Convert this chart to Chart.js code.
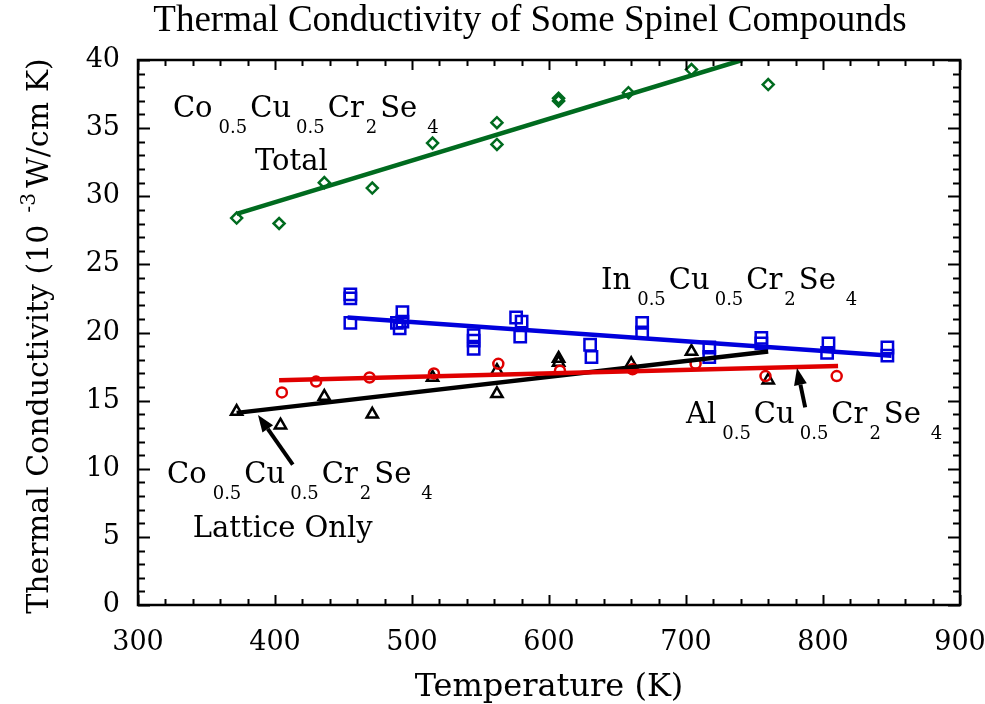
<!DOCTYPE html>
<html>
<head>
<meta charset="utf-8">
<title>Thermal Conductivity of Some Spinel Compounds</title>
<script src="https://cdn.jsdelivr.net/npm/chart.js"></script>
<style>
  html, body { margin: 0; padding: 0; background: #fff; }
</style>
</head>
<body>
<canvas id="chart" width="985" height="704"></canvas>
<script>
// --- measured points (temperature K, conductivity 10^-3 W/cm K) ---
// Co0.5Cu0.5Cr2Se4, total
var totalT = [372, 403, 436, 471, 515, 562, 562, 607, 607, 658, 704, 760];
var totalK = [28.4, 28.0, 31.0, 30.6, 33.9, 35.4, 33.8, 37.2, 37.0, 37.6, 39.3, 38.2];
// In0.5Cu0.5Cr2Se4
var inT = [455, 455, 455, 493, 493, 491, 489, 545, 545, 545, 576, 580, 579, 630, 631, 668, 668, 717, 717, 755, 755, 804, 803, 847, 847];
var inK = [22.8, 22.5, 20.7, 21.5, 20.8, 20.3, 20.7, 19.8, 19.4, 18.8, 21.1, 20.8, 19.7, 19.1, 18.2, 20.7, 20.0, 18.9, 18.2, 19.6, 19.2, 19.2, 18.5, 18.9, 18.3];
// Al0.5Cu0.5Cr2Se4
var alT = [405, 430, 469, 516, 563, 608, 661, 707, 758, 810];
var alK = [15.6, 16.4, 16.7, 17.0, 17.7, 17.2, 17.3, 17.7, 16.8, 16.8];
// Co0.5Cu0.5Cr2Se4, lattice only
var latT = [372, 404, 436, 471, 515, 562, 562, 607, 607, 660, 704, 760];
var latK = [14.2, 13.2, 15.3, 14.0, 16.7, 17.2, 15.5, 18.1, 17.8, 17.7, 18.6, 16.5];

// fit lines (end points)
var totalFitT = [372, 741], totalFitK = [28.7, 40.0];
var inFitT = [453, 850], inFitK = [21.1, 18.3];
var alFitT = [403, 811], alFitK = [16.5, 17.55];
var latFitT = [372, 760], latFitK = [14.1, 18.6];

// arrows: [tailT, tailK, headT, headK]
var latArrow = [413, 10.3, 387.6, 13.95];
var alArrow = [787, 14.5, 781, 17.4];

// axis ticks
var xMajor = [300, 400, 500, 600, 700, 800, 900];
var yMajor = [0, 5, 10, 15, 20, 25, 30, 35, 40];

var GREEN = '#006b1f', BLUE = '#0000dc', RED = '#e00000', BLACK = '#000000';
var SERIF = '"DejaVu Serif", serif';

function pts(xs, ys) {
	return xs.map(function (x, i) { return { x: x, y: ys[i] }; });
}

function formula(first) {
	return [
		{ t: first },
		{ t: '0.5', sub: true, gap: 6 },
		{ t: 'Cu', gap: 3 },
		{ t: '0.5', sub: true, gap: 5 },
		{ t: 'Cr', gap: 3 },
		{ t: '2', sub: true, gap: 2 },
		{ t: 'Se', gap: 3 },
		{ t: '4', sub: true, gap: 10 }
	];
}

function drawFormula(ctx, x, y, parts) {
	parts.forEach(function (p) {
		x += p.gap || 0;
		ctx.font = p.sub ? '18px ' + SERIF : '29px ' + SERIF;
		ctx.fillText(p.t, x, p.sub ? y + 16 : y);
		x += ctx.measureText(p.t).width;
	});
}

function drawArrow(ctx, xs, ys, a) {
	var x1 = xs.getPixelForValue(a[0]), y1 = ys.getPixelForValue(a[1]);
	var x2 = xs.getPixelForValue(a[2]), y2 = ys.getPixelForValue(a[3]);
	var ang = Math.atan2(y2 - y1, x2 - x1), len = 17, half = 6.5;
	var bx = x2 - Math.cos(ang) * len, by = y2 - Math.sin(ang) * len;
	ctx.strokeStyle = BLACK;
	ctx.lineWidth = 4;
	ctx.beginPath();
	ctx.moveTo(x1, y1);
	ctx.lineTo(bx, by);
	ctx.stroke();
	ctx.fillStyle = BLACK;
	ctx.beginPath();
	ctx.moveTo(x2, y2);
	ctx.lineTo(bx + Math.sin(ang) * half, by - Math.cos(ang) * half);
	ctx.lineTo(bx - Math.sin(ang) * half, by + Math.cos(ang) * half);
	ctx.closePath();
	ctx.fill();
}

// frame, inward ticks on all sides, labels, arrows and titles
var extras = {
	id: 'extras',
	afterDraw: function (chart) {
		var ctx = chart.ctx, a = chart.chartArea;
		var xs = chart.scales.x, ys = chart.scales.y;
		var v, p, len;
		ctx.save();
		ctx.strokeStyle = BLACK;
		ctx.lineWidth = 2;
		ctx.beginPath();
		for (v = 300; v <= 900; v += 20) {
			p = Math.round(xs.getPixelForValue(v)) + 0.5;
			len = (v % 100 === 0) ? 10 : 6;
			ctx.moveTo(p, a.bottom); ctx.lineTo(p, a.bottom - len);
			ctx.moveTo(p, a.top); ctx.lineTo(p, a.top + len);
		}
		for (v = 0; v <= 40; v += 1) {
			p = Math.round(ys.getPixelForValue(v)) + 0.5;
			len = (v % 5 === 0) ? 12 : 7;
			ctx.moveTo(a.left, p); ctx.lineTo(a.left + len, p);
			ctx.moveTo(a.right, p); ctx.lineTo(a.right - len, p);
		}
		ctx.stroke();
		ctx.lineWidth = 2.5;
		ctx.strokeRect(a.left, a.top, a.right - a.left, a.bottom - a.top);

		// compound labels
		ctx.fillStyle = BLACK;
		ctx.textAlign = 'left';
		ctx.textBaseline = 'alphabetic';
		drawFormula(ctx, xs.getPixelForValue(325.5), ys.getPixelForValue(35.8), formula('Co'));
		ctx.font = '29px ' + SERIF;
		ctx.fillText('Total', xs.getPixelForValue(385.4), ys.getPixelForValue(31.9));
		drawFormula(ctx, xs.getPixelForValue(638), ys.getPixelForValue(23.2), formula('In'));
		drawFormula(ctx, xs.getPixelForValue(700), ys.getPixelForValue(13.36), formula('Al'));
		drawFormula(ctx, xs.getPixelForValue(321.2), ys.getPixelForValue(8.95), formula('Co'));
		ctx.font = '29px ' + SERIF;
		ctx.fillText('Lattice Only', xs.getPixelForValue(340), ys.getPixelForValue(4.99));

		drawArrow(ctx, xs, ys, latArrow);
		drawArrow(ctx, xs, ys, alArrow);

		// chart title
		ctx.fillStyle = BLACK;
		ctx.textAlign = 'center';
		ctx.font = '37px "Liberation Serif", serif';
		ctx.fillText('Thermal Conductivity of Some Spinel Compounds', 530, 31);

		// x axis title
		ctx.font = '32px ' + SERIF;
		ctx.fillText('Temperature (K)', 549, 696);

		// y axis title with superscript
		ctx.translate(48, 336);
		ctx.rotate(-Math.PI / 2);
		ctx.textAlign = 'left';
		var big = '30px ' + SERIF, small = '20px ' + SERIF;
		var s1 = 'Thermal Conductivity (10', s2 = '-3', s3 = 'W/cm K)';
		ctx.font = big;
		var w1 = ctx.measureText(s1).width, w3 = ctx.measureText(s3).width;
		ctx.font = small;
		var w2 = ctx.measureText(s2).width;
		var gapA = 12, gapB = 5;
		var x0 = -(w1 + gapA + w2 + gapB + w3) / 2;
		ctx.font = big;
		ctx.fillText(s1, x0, 0);
		ctx.font = small;
		ctx.fillText(s2, x0 + w1 + gapA, -13);
		ctx.font = big;
		ctx.fillText(s3, x0 + w1 + gapA + w2 + gapB, 0);
		ctx.restore();
	}
};

function fitLine(xsArr, ysArr, color) {
	return {
		type: 'line',
		data: pts(xsArr, ysArr),
		borderColor: color,
		borderWidth: 4.5,
		pointRadius: 0,
		fill: false
	};
}

function marks(xsArr, ysArr, color, style, r) {
	return {
		type: 'scatter',
		data: pts(xsArr, ysArr),
		borderColor: color,
		backgroundColor: 'rgba(0,0,0,0)',
		borderWidth: 2.5,
		pointStyle: style,
		pointRadius: r
	};
}

new Chart(document.getElementById('chart').getContext('2d'), {
	type: 'scatter',
	data: {
		datasets: [
			fitLine(totalFitT, totalFitK, GREEN),
			fitLine(inFitT, inFitK, BLUE),
			fitLine(alFitT, alFitK, RED),
			fitLine(latFitT, latFitK, BLACK),
			marks(totalT, totalK, GREEN, 'rectRot', 5.5),
			marks(inT, inK, BLUE, 'rect', 8),
			marks(alT, alK, RED, 'circle', 5),
			marks(latT, latK, BLACK, 'triangle', 6.5)
		]
	},
	options: {
		responsive: false,
		animation: false,
		layout: { padding: { top: 60, right: 25, left: 0, bottom: 0 } },
		plugins: {
			legend: { display: false },
			tooltip: { enabled: false },
			title: { display: false }
		},
		scales: {
			x: {
				type: 'linear',
				min: 300,
				max: 900,
				grid: { display: false, drawTicks: false },
				border: { display: false },
				afterFit: function (s) { s.height = 99; s.paddingLeft = 0; s.paddingRight = 0; },
				afterBuildTicks: function (s) { s.ticks = xMajor.map(function (v) { return { value: v }; }); },
				ticks: {
					padding: 22,
					color: BLACK,
					maxRotation: 0,
					font: { family: 'DejaVu Serif', size: 27 }
				}
			},
			y: {
				type: 'linear',
				min: 0,
				max: 40,
				grid: { display: false, drawTicks: false },
				border: { display: false },
				afterFit: function (s) { s.width = 138; s.paddingTop = 0; s.paddingBottom = 0; },
				afterBuildTicks: function (s) { s.ticks = yMajor.map(function (v) { return { value: v }; }); },
				ticks: {
					padding: 18,
					color: BLACK,
					font: { family: 'DejaVu Serif', size: 27 }
				}
			}
		}
	},
	plugins: [extras]
});
</script>
</body>
</html>
